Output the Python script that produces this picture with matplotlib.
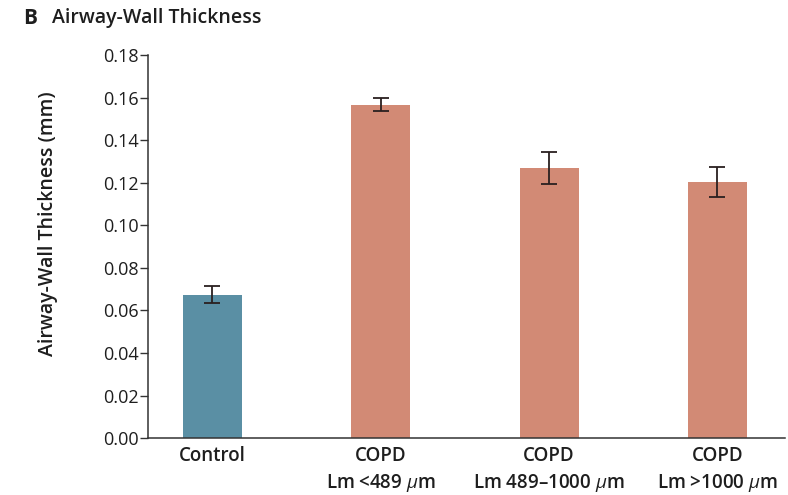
import numpy as np
from matplotlib import pyplot as plt

plt.rcParams['font.family'] = ['Open Sans', 'DejaVu Sans']
plt.rcParams['mathtext.fontset'] = 'custom'
plt.rcParams['mathtext.it'] = 'Open Sans:italic'
plt.rcParams['mathtext.rm'] = 'Open Sans'

# group means and error bar half-widths (mm)
groups = ['Control', 'COPD\nLm <489 $\\mu$m', 'COPD\nLm 489\u20131000 $\\mu$m', 'COPD\nLm >1000 $\\mu$m']
means = [0.0674, 0.1567, 0.1270, 0.1203]
errs = [0.0040, 0.0030, 0.0075, 0.0070]
yticks = [0.00, 0.02, 0.04, 0.06, 0.08, 0.10, 0.12, 0.14, 0.16, 0.18]

c_control = '#5a8fa4'
c_copd = '#d28a75'
colors = [c_control, c_copd, c_copd, c_copd]
c_text = '#1e1e1e'

fig = plt.figure(figsize=(7.88, 4.95), dpi=100)
ax = fig.add_axes([0.188, 0.115, 0.808, 0.774])

x = np.arange(len(groups))
ax.bar(x, means, width=0.35, color=colors, zorder=2)
ax.errorbar(x, means, yerr=errs, fmt='none', ecolor='#2a2020',
            elinewidth=1.3, capsize=6, capthick=1.3, zorder=3)

ax.set_xlim(-0.38, 3.40)
ax.set_ylim(0, 0.18)
ax.set_yticks(yticks)
ax.set_yticklabels(['%.2f' % v for v in yticks], fontsize=13, color=c_text)
ax.set_xticks(x)
ax.set_xticklabels(groups, fontsize=13.5, fontweight='semibold', linespacing=1.35, color=c_text)
ax.tick_params(axis='x', length=0, pad=6)
ax.tick_params(axis='y', length=6, width=1, color='#333333', pad=1)

for side in ['top', 'right']:
    ax.spines[side].set_visible(False)
ax.spines['left'].set_color('#333333')
ax.spines['bottom'].set_color('#333333')
ax.spines['left'].set_linewidth(1.1)
ax.spines['bottom'].set_linewidth(1.1)

ax.set_ylabel('Airway-Wall Thickness (mm)', fontsize=14, fontweight='semibold', color=c_text)
ax.yaxis.set_label_coords(-0.142, 0.56)

fig.text(0.029, 0.963, 'B', fontsize=15, fontweight='bold', va='center', color=c_text)
fig.text(0.066, 0.963, 'Airway-Wall Thickness', fontsize=14, fontweight='semibold',
         va='center', color=c_text)

fig.savefig('out.png', dpi=100)
